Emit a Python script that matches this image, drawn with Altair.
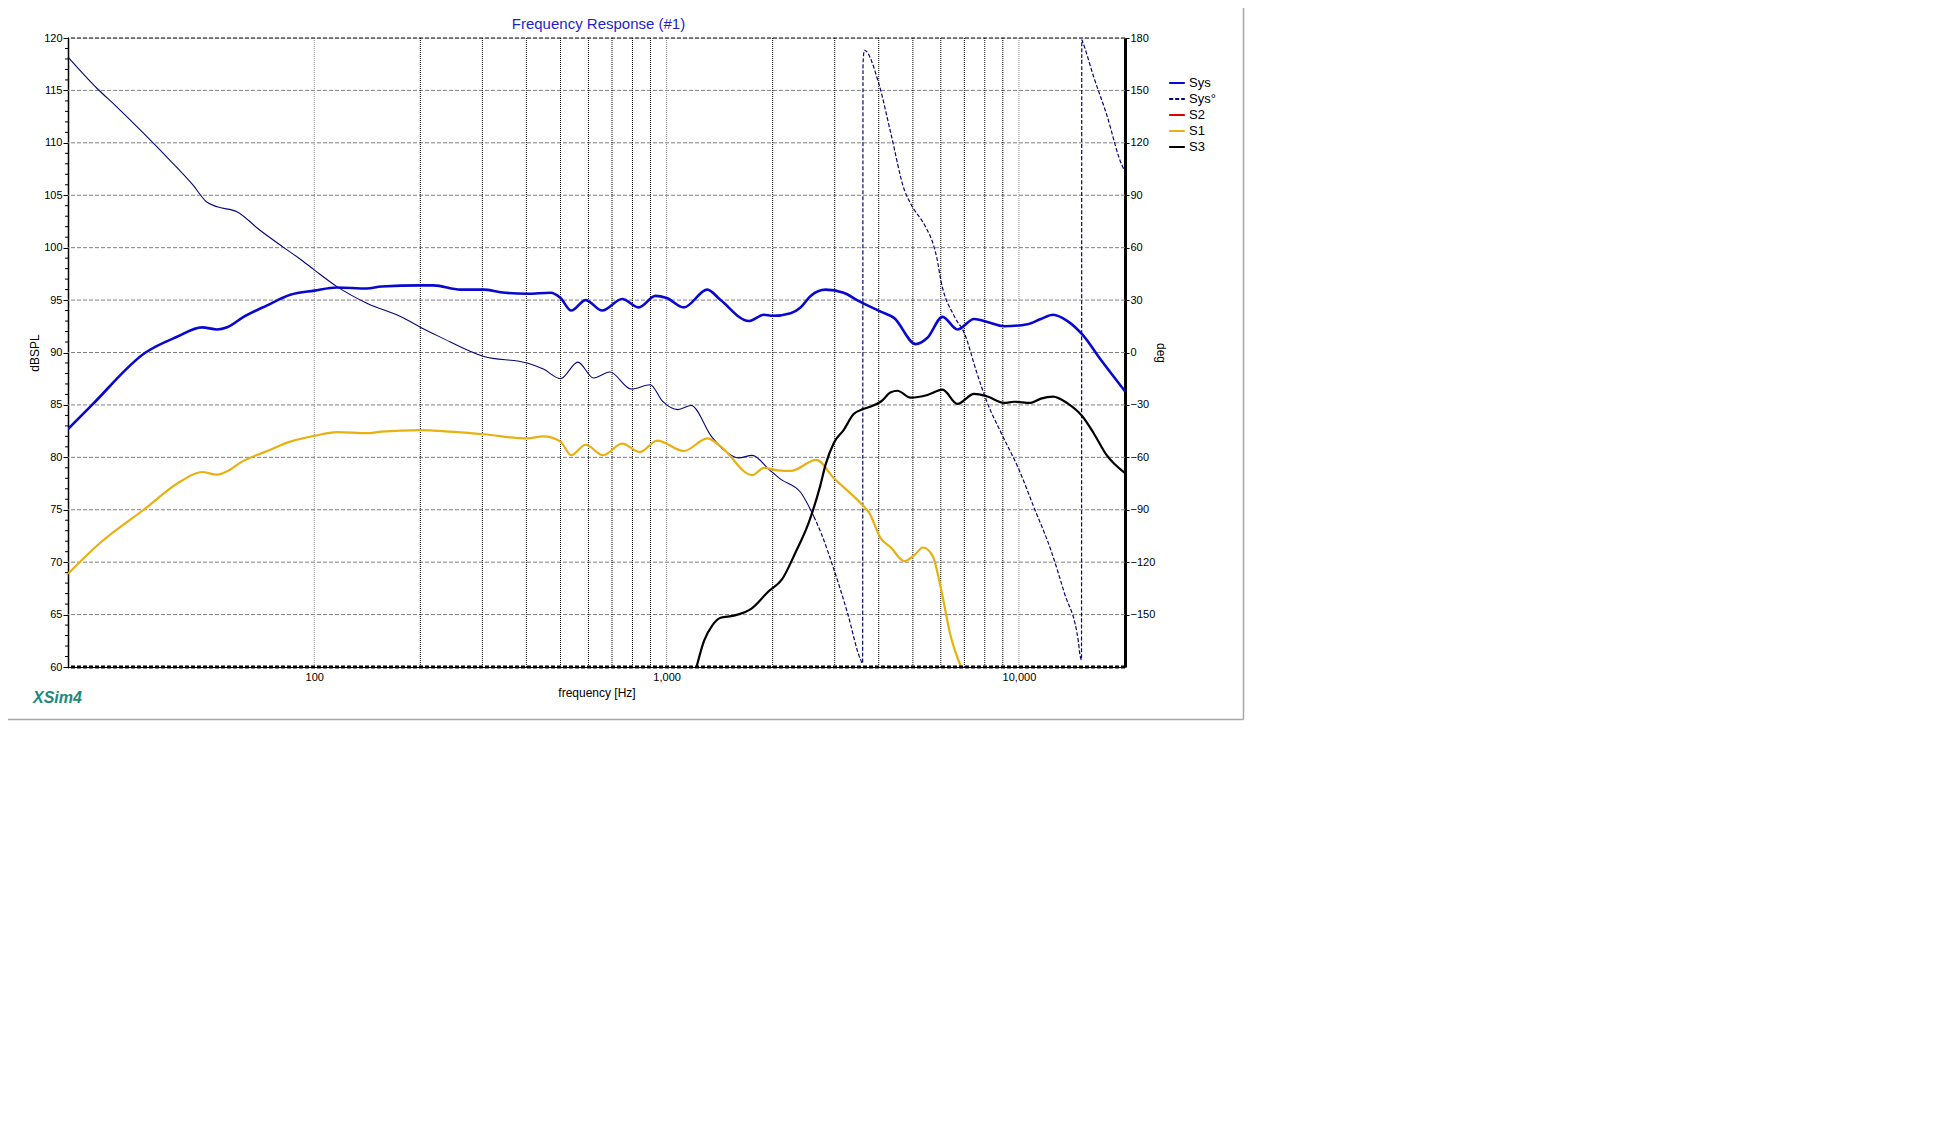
import altair as alt
import pandas as pd

# ---------------- data ----------------
series_names = ["Sys", "Sys°", "S2", "S1", "S3"]
series_colors = ["#0808d0", "#06067a", "#e00000", "#e8b010", "#000000"]

sys_freq = [20, 23.4, 33.2, 40.8, 48, 53, 56.6, 63, 73.5, 85.5, 100, 116, 141, 155, 200, 218, 260, 303,
            338, 402, 469, 500, 536, 589, 657, 748, 834, 930, 1000, 1119, 1305, 1423, 1712, 1889, 2000,
            2249, 2400, 2563, 2826, 3180, 3515, 4053, 4420, 5095, 5500, 6070, 6690, 7460, 8140, 9080,
            10570, 11540, 12500, 13740, 15150, 17080, 20000]
sys_db = [82.7, 85.0, 90.0, 91.5, 92.4, 92.2, 92.4, 93.4, 94.5, 95.5, 95.9, 96.2, 96.1, 96.3, 96.4, 96.4,
          96.0, 96.0, 95.75, 95.6, 95.7, 95.2, 94.0, 95.0, 94.0, 95.1, 94.3, 95.4, 95.2, 94.3, 96.0, 95.0,
          93.0, 93.6, 93.5, 93.75, 94.3, 95.4, 96.0, 95.7, 94.9, 93.9, 93.3, 90.8, 91.4, 93.4, 92.2, 93.2,
          92.9, 92.5, 92.7, 93.2, 93.6, 93.0, 91.7, 89.3, 86.3]

s1_freq = [20, 24.7, 32.8, 41.7, 48, 53, 57.5, 61.7, 73.5, 85.5, 100, 116, 141, 155, 200, 218, 303, 402,
           447, 500, 536, 589, 660, 748, 840, 940, 1119, 1305, 1423, 1750, 1889, 2070, 2249, 2660, 2985,
           3550, 3760, 4050, 4330, 4730, 5060, 5340, 5690, 6000, 6400, 6850]
s1_db = [68.9, 71.85, 75.0, 77.7, 78.6, 78.35, 78.8, 79.5, 80.6, 81.5, 82.05, 82.4, 82.3, 82.45, 82.6,
         82.55, 82.2, 81.8, 82.0, 81.5, 80.2, 81.2, 80.2, 81.3, 80.5, 81.6, 80.6, 81.8, 81.05, 78.3, 79.0,
         78.75, 78.7, 79.75, 78.0, 75.65, 74.7, 72.3, 71.4, 70.1, 70.7, 71.4, 70.6, 67.55, 62.95, 60.0]

s3_freq = [1216, 1277, 1350, 1423, 1550, 1745, 1945, 2125, 2320, 2530, 2730, 2826, 2985, 3180, 3390, 3610,
           3800, 4050, 4330, 4520, 4920, 5500, 6070, 6690, 7460, 8140, 9080, 9690, 10800, 11540, 12500,
           13740, 15150, 16300, 17700, 20000]
s3_db = [60.0, 62.5, 64.0, 64.7, 64.9, 65.6, 67.2, 68.35, 70.9, 73.75, 77.3, 79.3, 81.4, 82.6, 84.1, 84.6,
         84.85, 85.3, 86.2, 86.35, 85.7, 85.95, 86.45, 85.1, 86.05, 85.8, 85.2, 85.3, 85.2, 85.6, 85.8,
         85.15, 83.9, 82.3, 80.25, 78.5]

phase_freq = [20, 24.2, 27.5, 32.8, 38.1, 45.3, 49.4, 53, 60.3, 70, 81.2, 90.5, 100, 116, 141, 175.7, 200,
              228, 303, 402, 447, 500, 560, 620, 690, 794, 898, 975, 1076, 1174, 1340, 1470, 1600, 1750,
              1955, 2100, 2400, 2620, 2740, 2985, 3260, 3550, 3600, 3610, 3640, 4000, 4330, 4730, 4920,
              5430, 5720, 5850, 6000, 6560, 7000, 7600, 8140, 8900, 10000, 11000, 12300, 13450, 14760,
              14850, 15050, 15080, 15150, 16300, 17700, 19700, 20000]
phase_deg = [169.1, 151.1, 140.6, 125.4, 112.0, 95.8, 86.3, 83.4, 80.6, 70.1, 60.6, 53.95, 47.3, 37.7,
             28.2, 20.6, 14.5, 8.8, -2.3, -6.05, -9.5, -15.0, -5.5, -14.6, -11.2, -20.9, -18.5, -28.0,
             -32.7, -30.3, -48.0, -56.6, -60.3, -58.9, -67.0, -72.3, -80.0, -94.0, -103.0, -124.2, -148.9,
             -175.6, -178.0, 165.0, 173.0, 154.0, 125.4, 93.0, 85.4, 72.0, 61.5, 54.0, 41.5, 20.6, 11.0,
             -11.8, -29.0, -46.0, -67.0, -88.0, -112.7, -137.5, -166.0, -171.0, -176.0, 179.0, 178.0,
             157.7, 136.8, 106.3, 104.0]

db_ticks = [60, 65, 70, 75, 80, 85, 90, 95, 100, 105, 110, 115, 120]
db_minor = [v for v in range(61, 120) if v % 5 != 0]
deg_ticks = [-150, -120, -90, -60, -30, 0, 30, 60, 90, 120, 150, 180]
hgrid_levels = [65, 70, 75, 80, 85, 90, 95, 100, 105, 110, 115]
vgrid_minor = [200, 300, 400, 500, 600, 700, 800, 900, 2000, 3000, 4000, 5000, 6000, 7000, 8000, 9000]
vgrid_decade = [100, 1000, 10000]
x_labels = [100, 1000, 10000]
chart_title = "Frequency Response (#1)"
brand_text = "XSim4"

# ---------------- tables ----------------
mag = pd.concat([
    pd.DataFrame({"freq": sys_freq, "dB": sys_db, "series": "Sys"}),
    pd.DataFrame({"freq": s1_freq, "dB": s1_db, "series": "S1"}),
    pd.DataFrame({"freq": s3_freq, "dB": s3_db, "series": "S3"}),
])
phase = pd.DataFrame({"freq": phase_freq, "deg": phase_deg, "series": "Sys°"})
hgrid = pd.DataFrame({"dB": hgrid_levels})
minor_df = pd.DataFrame({"dB": db_minor})
vminor = pd.DataFrame({"freq": vgrid_minor})
vdec = pd.DataFrame({"freq": vgrid_decade})
brand = pd.DataFrame({"label": [brand_text]})
title_df = pd.DataFrame({"label": [chart_title]})

FONT = "Liberation Sans"
W, H = 1057, 629

xs = alt.Scale(type="log", domain=[20, 20000], nice=False)
ys = alt.Scale(domain=[60, 120], nice=False, zero=False)
ps = alt.Scale(domain=[-180, 180], nice=False, zero=False)
cs = alt.Scale(domain=series_names, range=series_colors)
ds = alt.Scale(domain=series_names, range=[[1, 0], [4, 2], [1, 0], [1, 0], [1, 0]])

legend = alt.Legend(title=None, orient="none", legendX=1100, legendY=36, symbolType="stroke",
                    symbolSize=245, symbolStrokeWidth=2, labelFontSize=13, labelFont=FONT,
                    labelColor="#000", rowPadding=0, padding=0, labelOffset=3, symbolOffset=0)

X = alt.X("freq:Q", scale=xs, title="frequency [Hz]", axis=alt.Axis(
    values=x_labels, format=",", title="frequency [Hz]", grid=False, ticks=False,
    domain=True, domainColor="#000", domainWidth=1, labelFontSize=11, labelFont=FONT,
    labelColor="#000", labelPadding=4, titleFont=FONT, titleFontSize=12, titleFontWeight="normal",
    titleColor="#000", titleY=25, titleBaseline="middle", labelFlush=False))

# horizontal dashed grid
hgrid_layer = alt.Chart(hgrid).mark_rule(color="#808080", strokeWidth=1, strokeDash=[4, 2]).encode(
    y=alt.Y("dB:Q", scale=ys, axis=None))
top_layer = alt.Chart(pd.DataFrame({"dB": [120]})).mark_rule(color="#000", strokeWidth=1, strokeDash=[4, 2]).encode(
    y=alt.Y("dB:Q", scale=ys, axis=None))
bottom_layer = alt.Chart(pd.DataFrame({"dB": [60]})).mark_rule(color="#000", strokeWidth=3, strokeDash=[4, 2]).encode(
    y=alt.Y("dB:Q", scale=ys, axis=None))
# vertical dotted grid
vminor_layer = alt.Chart(vminor).mark_rule(color="#000", strokeWidth=1, strokeDash=[1, 1]).encode(x=X)
vdec_layer = alt.Chart(vdec).mark_rule(color="#8c8c8c", strokeWidth=1, strokeDash=[1, 1]).encode(x=X)
# left minor ticks
minor_layer = alt.Chart(minor_df).mark_rule(color="#000", strokeWidth=1).encode(
    y=alt.Y("dB:Q", scale=ys, axis=None), x=alt.value(-3), x2=alt.value(0))

# magnitude curves
def mag_line(name, width):
    return alt.Chart(mag).transform_filter(alt.datum.series == name).mark_line(
        strokeWidth=width, interpolate="monotone", clip=True).encode(
        x=X,
        y=alt.Y("dB:Q", scale=ys, axis=None),
        color=alt.Color("series:N", scale=cs, legend=legend),
    )

sys_line = mag_line("Sys", 2.6)
s1_line = mag_line("S1", 2.2)
s3_line = mag_line("S3", 2.2)

# axis carrier layer (left dB axis)
axis_layer = alt.Chart(mag).mark_line(opacity=0).encode(
    x=X,
    y=alt.Y("dB:Q", scale=ys, axis=alt.Axis(
        values=db_ticks, title="dBSPL", grid=False, tickSize=5, tickColor="#000", domainColor="#000",
        domainWidth=1.5, labelFontSize=11, labelFont=FONT, labelColor="#000", labelPadding=1,
        titleFont=FONT, titleFontSize=12, titleFontWeight="normal", titleColor="#000",
        titleX=-34, titleY=H / 2, titleBaseline="middle", titleAngle=270)),
    detail="series:N",
)

# phase curves (right axis)
phase_solid = alt.Chart(phase).transform_filter(alt.datum.freq <= 2620).mark_line(
    strokeWidth=1.1, interpolate="monotone").encode(
    x=X,
    y=alt.Y("deg:Q", scale=ps, axis=alt.Axis(
        orient="right", values=deg_ticks, title="deg", grid=False, tickSize=4, tickColor="#000",
        domainColor="#000", domainWidth=3, labelFontSize=11, labelFont=FONT, labelColor="#000",
        labelPadding=1, titleFont=FONT, titleFontSize=12, titleFontWeight="normal", titleColor="#000",
        titleX=35, titleY=H / 2, titleBaseline="middle", titleAngle=90)),
    color=alt.Color("series:N", scale=cs, legend=legend),
)
phase_dashed = alt.Chart(phase).transform_filter(alt.datum.freq >= 2620).mark_line(
    strokeWidth=1.2, interpolate="monotone").encode(
    x=X,
    y=alt.Y("deg:Q", scale=ps, axis=None),
    color=alt.Color("series:N", scale=cs, legend=legend),
    strokeDash=alt.StrokeDash("series:N", scale=ds, legend=legend),
)

title_layer = alt.Chart(title_df).mark_text(
    font=FONT, fontSize=15, color="#1f1fcc", align="center", baseline="middle").encode(
    text="label:N", x=alt.value(W / 2 + 2), y=alt.value(-14))

brand_layer = alt.Chart(brand).mark_text(
    font=FONT, fontSize=16, fontWeight="bold", fontStyle="italic", color="#1a8a80",
    align="left", baseline="middle").encode(
    text="label:N", x=alt.value(-35), y=alt.value(660))

frame_right = alt.Chart(brand).mark_rule(color="#a8a8a8", strokeWidth=1.5).encode(
    x=alt.value(1175.5), y=alt.value(-30), y2=alt.value(681.5))
frame_bottom = alt.Chart(brand).mark_rule(color="#a8a8a8", strokeWidth=1.5).encode(
    x=alt.value(-60), x2=alt.value(1175.5), y=alt.value(681.5))

chart = alt.layer(
    hgrid_layer, vminor_layer, vdec_layer, top_layer, minor_layer,
    axis_layer, phase_solid, phase_dashed, sys_line, s1_line, s3_line, bottom_layer,
    title_layer, brand_layer, frame_right, frame_bottom,
).resolve_scale(y="independent").properties(
    width=W, height=H,
    autosize=alt.AutoSizeParams(type="none"),
    padding={"left": 60, "top": 30, "right": 122, "bottom": 56},
).configure_view(stroke=None).configure(background="white")

chart.save("out.html", embed_options={"renderer": "svg", "actions": False})
